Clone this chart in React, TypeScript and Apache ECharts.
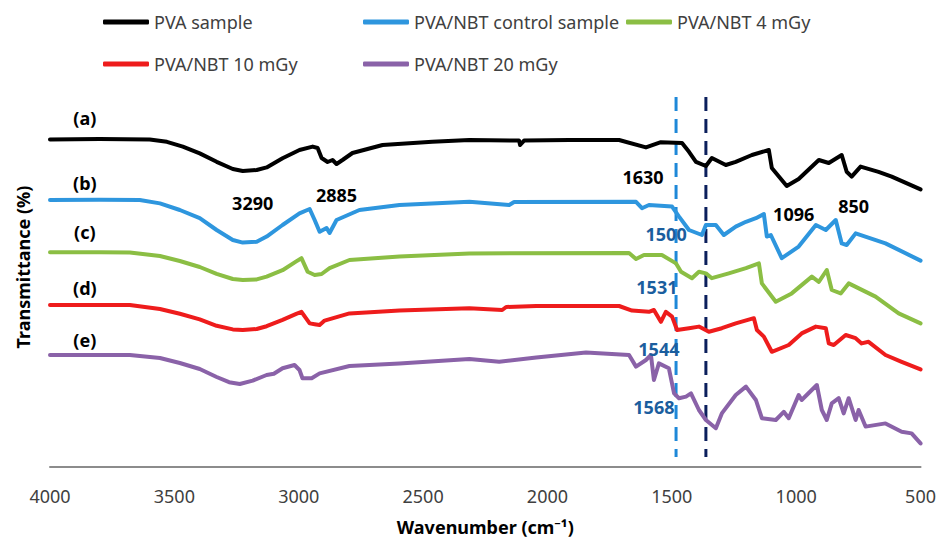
import React, { useEffect, useRef } from "react";
import * as echarts from "echarts";

const FONT = '"Noto Sans", sans-serif';

// [wavenumber (cm-1), transmittance (offset, a.u.)]
const pvaSample: [number, number][] = [
  [4000, 81.9], [3800, 82], [3599, 81.9], [3530, 81.3], [3466, 80.1], [3398, 78.4], [3330, 76.3],
  [3265, 74.5], [3225, 74], [3169, 74.25], [3129, 74.9], [3065, 77.2], [2997, 79.25], [2944, 80.1],
  [2924, 79.75], [2908, 77.25], [2884, 76.25], [2864, 76.75], [2848, 75.75], [2824, 76.75], [2784, 78.5],
  [2663, 80.5], [2463, 81.3], [2314, 81.75], [2114, 81.6], [2110, 80.5], [2094, 81.6], [1913, 81.75],
  [1712, 81.75], [1604, 79.9], [1544, 81.2], [1459, 81], [1431, 78.8], [1403, 76.3], [1363, 75.25],
  [1339, 77.25], [1283, 75.5], [1243, 76.3], [1178, 78], [1110, 79.25], [1098, 74.75], [1038, 70.25],
  [990, 72], [909, 76.75], [869, 76], [817, 78], [797, 73.8], [777, 72.6], [741, 75.1], [669, 73.8],
  [616, 72.6], [500, 69.4],
];

const pvaNbtControl: [number, number][] = [
  [4000, 66.75], [3800, 66.8], [3639, 66.75], [3558, 65.9], [3478, 64.25], [3398, 62.2], [3330, 59.25],
  [3265, 56.75], [3225, 56.1], [3169, 56.3], [3129, 57.6], [3065, 60.5], [2997, 63.4], [2956, 64.5],
  [2936, 61.75], [2916, 58.8], [2888, 59.75], [2876, 58.5], [2848, 61.75], [2756, 64.25], [2595, 65.5],
  [2314, 66.3], [2154, 65.5], [2134, 66.25], [1644, 66.3], [1620, 64.7], [1592, 65.5], [1499, 65.1],
  [1471, 62.6], [1431, 59.25], [1379, 58], [1363, 60.5], [1323, 60.5], [1291, 58], [1243, 60.1],
  [1202, 61.3], [1162, 62.2], [1130, 63.25], [1118, 57.6], [1102, 58], [1058, 52.2], [990, 55.1],
  [921, 60.5], [881, 59.25], [841, 61.75], [817, 55.9], [797, 55.5], [761, 58.4], [641, 55.9],
  [500, 51.6],
];

const pvaNbt4: [number, number][] = [
  [4000, 53.7], [3800, 53.7], [3679, 53.6], [3558, 52.75], [3478, 51.5], [3398, 50], [3330, 48.3],
  [3265, 47], [3225, 46.75], [3169, 46.9], [3129, 47.6], [3065, 49.2], [3010, 51.4], [2989, 52.2],
  [2964, 48.8], [2936, 48], [2908, 48.25], [2876, 49.7], [2796, 51.75], [2595, 52.6], [2314, 53.4],
  [1672, 53.5], [1644, 52], [1612, 53], [1540, 53], [1483, 50.9], [1463, 48.8], [1419, 47.2],
  [1391, 48.8], [1363, 48.4], [1339, 47.2], [1271, 48.4], [1202, 49.7], [1150, 50.9], [1138, 45.9],
  [1082, 41.3], [1018, 43.4], [937, 47.6], [909, 46.3], [877, 49.25], [857, 44.25], [821, 43.4],
  [789, 45.9], [681, 42.6], [588, 38.4], [500, 35.9],
];

const pvaNbt10: [number, number][] = [
  [4000, 40.5], [3800, 40.5], [3679, 40.5], [3558, 39.5], [3478, 38.3], [3398, 36.9], [3330, 35.3],
  [3265, 34.4], [3225, 34.25], [3169, 34.5], [3129, 35.2], [3065, 36.8], [3010, 38.3], [2989, 38.8],
  [2956, 35.9], [2936, 35.7], [2916, 35.5], [2896, 36.6], [2796, 38.4], [2595, 39.1], [2314, 39.7],
  [2182, 39.25], [2166, 40], [2045, 40.25], [1712, 40.25], [1660, 39.1], [1592, 38.8], [1572, 39.25],
  [1544, 36.3], [1524, 38.8], [1499, 37.6], [1479, 34.25], [1431, 34.7], [1391, 35.1], [1351, 33.8],
  [1299, 34.7], [1243, 35.9], [1170, 37.2], [1158, 34.25], [1130, 32.6], [1098, 28.8], [1030, 30.5],
  [978, 33.4], [921, 35.1], [881, 34.7], [869, 30.9], [849, 30.5], [801, 33], [761, 32.2], [737, 30.9],
  [709, 31.3], [641, 28], [576, 26.3], [500, 24.4],
];

const pvaNbt20: [number, number][] = [
  [4000, 28], [3800, 28], [3679, 28], [3558, 27.25], [3478, 26], [3398, 24.5], [3330, 22.5],
  [3280, 21.2], [3237, 20.75], [3185, 21.6], [3129, 23], [3100, 23.3], [3065, 24.7], [3017, 25.5],
  [2997, 24.25], [2985, 22.2], [2948, 22.2], [2916, 23.4], [2796, 25.25], [2595, 25.9], [2314, 27],
  [2194, 26.3], [2045, 27.4], [1845, 28.6], [1672, 28], [1644, 25.1], [1604, 26.75], [1584, 28],
  [1572, 21.75], [1552, 25.9], [1512, 24.7], [1491, 18.4], [1471, 17.2], [1443, 17.6], [1423, 18.4],
  [1391, 14.25], [1363, 11.75], [1323, 9.7], [1299, 13.4], [1243, 18], [1202, 20.1], [1162, 16.75],
  [1138, 12.2], [1082, 11.75], [1050, 13.8], [1030, 12.2], [990, 18], [978, 16.75], [917, 20.5],
  [897, 14.25], [877, 11.75], [857, 15.9], [829, 17.2], [809, 13.4], [789, 17.2], [761, 11.75],
  [749, 14.25], [721, 10.1], [641, 10.9], [576, 8.8], [536, 8.4], [500, 5.9],
];

// vertical reference lines (wavenumber, from / to transmittance)
const guideLight: [number, number][] = [[1483, 92.5], [1483, 2.5]];
const guideDark: [number, number][] = [[1363, 92.5], [1363, 2.5]];

// curve letters and peak labels: [wavenumber, transmittance, text]
const curveLetters: [number, number, string][] = [
  [3860, 87.25, "(a)"], [3860, 71, "(b)"], [3860, 58.75, "(c)"], [3860, 44.75, "(d)"], [3860, 31.75, "(e)"],
];
const blackPeaks: [number, number, string][] = [
  [3185, 66, "3290"], [2848, 68, "2885"], [1616, 72.5, "1630"], [1010, 63.25, "1096"], [769, 65.25, "850"],
];
const bluePeaks: [number, number, string][] = [
  [1523, 58.25, "1500"], [1560, 45, "1531"], [1552, 29.5, "1544"], [1572, 15, "1568"],
];

const xTicks = { min: 500, max: 4000, interval: 500 };

const seriesDefs = [
  { name: "PVA sample", data: pvaSample, color: "#000000" },
  { name: "PVA/NBT control sample", data: pvaNbtControl, color: "#2E96DE" },
  { name: "PVA/NBT 4 mGy", data: pvaNbt4, color: "#8BBE44" },
  { name: "PVA/NBT 10 mGy", data: pvaNbt10, color: "#EE1C1C" },
  { name: "PVA/NBT 20 mGy", data: pvaNbt20, color: "#8A62A8" },
];

const legendPlaces = [
  { name: "PVA sample", left: 103, top: 13 },
  { name: "PVA/NBT control sample", left: 363, top: 13 },
  { name: "PVA/NBT 4 mGy", left: 626, top: 13 },
  { name: "PVA/NBT 10 mGy", left: 103, top: 55 },
  { name: "PVA/NBT 20 mGy", left: 363, top: 55 },
];

function labelSeries(name: string, items: [number, number, string][], color: string) {
  return {
    name,
    type: "scatter",
    symbolSize: 1,
    itemStyle: { color: "rgba(0,0,0,0)" },
    z: 10,
    silent: true,
    data: items.map((d) => ({ value: [d[0], d[1]], label: { formatter: d[2] } })),
    label: {
      show: true,
      position: "inside",
      color,
      opacity: 1,
      textBorderWidth: 0,
      fontFamily: FONT,
      fontWeight: "bold",
      fontSize: 18,
    },
  };
}

export default function App() {
  const ref = useRef<HTMLDivElement>(null);
  useEffect(() => {
    document.body.style.margin = "0";
    const chart = echarts.init(ref.current as HTMLDivElement, null, { renderer: "svg" });
    const option: any = {
      animation: false,
      backgroundColor: "#ffffff",
      textStyle: { fontFamily: FONT },
      grid: { left: 50, right: 17, top: 67, bottom: 74 },
      legend: legendPlaces.map((l) => ({
        data: [l.name],
        left: l.left,
        top: l.top,
        icon: "roundRect",
        itemWidth: 46,
        itemHeight: 5,
        padding: 0,
        selectedMode: false,
        textStyle: { fontFamily: FONT, fontSize: 18, color: "#404040" },
      })),
      xAxis: {
        type: "value",
        inverse: true,
        min: xTicks.min,
        max: xTicks.max,
        interval: xTicks.interval,
        axisLine: { show: true, lineStyle: { color: "#8C8C8C", width: 2 } },
        axisTick: { show: false },
        splitLine: { show: false },
        axisLabel: {
          color: "#404040",
          fontSize: 18,
          fontFamily: FONT,
          margin: 20,
          formatter: (v: number) => String(v),
        },
        name: "Wavenumber (cm⁻¹)",
        nameLocation: "middle",
        nameGap: 51,
        nameTextStyle: { color: "#000000", fontSize: 18, fontWeight: "bold", fontFamily: FONT },
      },
      yAxis: {
        type: "value",
        min: 0,
        max: 100,
        axisLine: { show: false },
        axisTick: { show: false },
        axisLabel: { show: false },
        splitLine: { show: false },
        name: "Transmittance (%)",
        nameLocation: "middle",
        nameGap: 18,
        nameTextStyle: { color: "#000000", fontSize: 18, fontWeight: "bold", fontFamily: FONT },
      },
      series: [
        {
          name: "guide 1483",
          type: "line",
          data: guideLight,
          symbol: "none",
          silent: true,
          lineStyle: { color: "#1E88D8", width: 3, type: [14, 8] },
          z: 1,
        },
        {
          name: "guide 1363",
          type: "line",
          data: guideDark,
          symbol: "none",
          silent: true,
          lineStyle: { color: "#0B1F5C", width: 3, type: [14, 8] },
          z: 1,
        },
        ...seriesDefs.map((s) => ({
          name: s.name,
          type: "line",
          data: s.data,
          showSymbol: false,
          symbol: "none",
          itemStyle: { color: s.color },
          lineStyle: { color: s.color, width: 4, join: "round", cap: "round" },
          z: 3,
        })),
        labelSeries("letters", curveLetters, "#000000"),
        labelSeries("black peaks", blackPeaks, "#000000"),
        labelSeries("blue peaks", bluePeaks, "#1B5E9E"),
      ],
    };
    chart.setOption(option);
    return () => chart.dispose();
  }, []);
  return (
    <div
      ref={ref}
      style={{ position: "fixed", left: 0, top: 0, width: 939, height: 541 }}
    />
  );
}
